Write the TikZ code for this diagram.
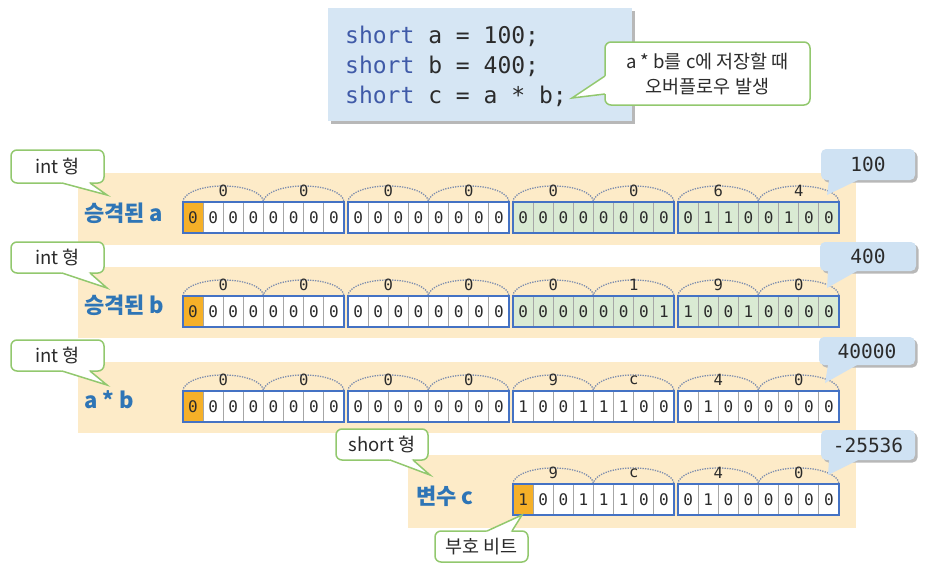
\documentclass[tikz,border=0pt]{standalone}
\usepackage{fontspec}
\setmainfont{Noto Sans CJK KR}
\newfontfamily\codefont{DejaVu Sans Mono}
\usetikzlibrary{calc}
\definecolor{bandfill}{HTML}{FDEBC8}
\definecolor{codefill}{HTML}{D6E6F4}
\definecolor{valfill}{HTML}{CFE2F3}
\definecolor{cgreen}{HTML}{92C86E}
\definecolor{lblue}{HTML}{2E75B6}
\definecolor{kwblue}{HTML}{3F5AA8}
\definecolor{bytebl}{HTML}{4472C4}
\definecolor{cellgreen}{HTML}{D9EAD3}
\definecolor{signor}{HTML}{F5B028}
\definecolor{arcgray}{HTML}{7D8DAE}
\definecolor{cellgray}{HTML}{A6A6A6}
\definecolor{txt}{HTML}{2B2B2B}
\definecolor{shadowgray}{HTML}{B8B8B8}

\tikzset{
 cell/.style={draw=cellgray, line width=1pt, minimum width=20.125pt, minimum height=31pt, inner sep=0pt, font=\codefont\fontsize{16}{16}\selectfont, text=txt},
 bytestyle/.style={draw=bytebl, line width=2.4pt},
 arcstyle/.style={draw=arcgray, line width=1.3pt, dash pattern=on 1.3pt off 1.2pt},
 nibstyle/.style={font=\codefont\fontsize{15.5}{15.5}\selectfont, text=txt, inner sep=0pt},
 gbox/.style={draw=cgreen, fill=white, line width=1.5pt, rounded corners=6pt},
 gline/.style={draw=cgreen, line width=1.5pt},
 gtext/.style={font=\fontsize{18.5}{25}\selectfont, text=txt, align=center, inner sep=0pt},
 vtext/.style={font=\codefont\fontsize{19.5}{19.5}\selectfont, text=txt, inner sep=0pt},
 rowlabel/.style={font=\bfseries\fontsize{22}{22}\selectfont, text=lblue, inner sep=0pt, anchor=west},
 codeline/.style={font=\codefont\fontsize{23}{23}\selectfont, text=txt, inner sep=0pt, anchor=base west},
}

% #1 name, #2 x0, #3 y0, #4 bits, #5 fill, #6 fill of first cell
\newcommand\bytebox[6]{%
  \foreach \b [count=\i from 0] in {#4} {%
    \ifnum\i=0 \def\cf{#6}\else\def\cf{#5}\fi
    \node[cell, fill=\cf] (#1c\i) at ({#2+\i*20.125+10.0625},{#3+15.5}) {\b};
  }
  \draw[bytestyle] (#2,#3) rectangle ++(161,31);
}
% #1 name, #2 x0, #3 y0, #4 label
\newcommand\nib[4]{%
  \draw[arcstyle] ({#2},{#3}) .. controls ({#2},{#3-9}) and ({#2+18},{#3-16}) .. ({#2+40.25},{#3-16})
      .. controls ({#2+62.5},{#3-16}) and ({#2+80.5},{#3-9}) .. ({#2+80.5},{#3});
  \node[nibstyle] (#1) at ({#2+40.25},{#3-11}) {#4};
}
% green callout: #1 name, #2..#5 box, #6 A, #7 B, #8 tip, #9 text
\newcommand\gcallout[9]{%
  \draw[gbox] (#2,#3) rectangle (#4,#5);
  \fill[white] #6 -- #8 -- #7 -- ({(#2+#4)/2},{(#3+#5)/2}) -- cycle;
  \draw[gline] #6 -- #8 -- #7;
  \node[gtext] (#1) at ({(#2+#4)/2},{(#3+#5)/2}) {#9};
}
% value callout
\newcommand\bcallout[9]{%
  \fill[shadowgray, rounded corners=5pt] ({#2+2.5},{#3+2.5}) rectangle ({#4+2.5},{#5+2.5});
  \fill[valfill, rounded corners=5pt] (#2,#3) rectangle (#4,#5);
  \fill[valfill] #6 -- #8 -- #7 -- ({(#2+#4)/2},{(#3+#5)/2}) -- cycle;
  \node[vtext] (#1) at ({(#2+#4)/2},{(#3+#5)/2}) {#9};
}

\begin{document}
\begin{tikzpicture}[x=1pt,y=-1pt]
\useasboundingbox (0,0) rectangle (936,573);

% bands
\fill[bandfill] (78,173) rectangle (856,245);
\fill[bandfill] (78,267) rectangle (856,338);
\fill[bandfill] (78,362) rectangle (856,433);
\fill[bandfill] (408,455) rectangle (856,528);

% code box
\fill[shadowgray] (331,11) rectangle (635,124);
\node[fill=codefill, minimum width=304pt, minimum height=113pt, inner sep=0pt, anchor=north west] (code) at (328,8) {};
\node[codeline] (l1) at (345,43) {\textcolor{kwblue}{short} a = 100;};
\node[codeline] (l2) at (345,73) {\textcolor{kwblue}{short} b = 400;};
\node[codeline] (l3) at (345,103) {\textcolor{kwblue}{short} c = a * b;};

\gcallout{ovf}{605}{42}{810}{105}{(605,76)}{(605,94)}{(572,98)}{a * b를 c에 저장할 때\\오버플로우 발생}

% row labels
\node[rowlabel] (la) at (84,213) {승격된 a};
\node[rowlabel] (lb) at (84,305) {승격된 b};
\node[rowlabel] (lab) at (84,400) {a * b};
\node[rowlabel] (lc) at (416,496) {변수 c};

% row a
\nib{na1}{183}{202}{0}\nib{na2}{263.5}{202}{0}
\nib{na3}{348}{202}{0}\nib{na4}{428.5}{202}{0}
\nib{na5}{513}{202}{0}\nib{na6}{593.5}{202}{0}
\nib{na7}{678}{202}{6}\nib{na8}{758.5}{202}{4}
\bytebox{a1}{183}{202}{0,0,0,0,0,0,0,0}{white}{signor}
\bytebox{a2}{348}{202}{0,0,0,0,0,0,0,0}{white}{white}
\bytebox{a3}{513}{202}{0,0,0,0,0,0,0,0}{cellgreen}{cellgreen}
\bytebox{a4}{678}{202}{0,1,1,0,0,1,0,0}{cellgreen}{cellgreen}

% row b
\nib{nb1}{183}{296}{0}\nib{nb2}{263.5}{296}{0}
\nib{nb3}{348}{296}{0}\nib{nb4}{428.5}{296}{0}
\nib{nb5}{513}{296}{0}\nib{nb6}{593.5}{296}{1}
\nib{nb7}{678}{296}{9}\nib{nb8}{758.5}{296}{0}
\bytebox{b1}{183}{296}{0,0,0,0,0,0,0,0}{white}{signor}
\bytebox{b2}{348}{296}{0,0,0,0,0,0,0,0}{white}{white}
\bytebox{b3}{513}{296}{0,0,0,0,0,0,0,1}{cellgreen}{cellgreen}
\bytebox{b4}{678}{296}{1,0,0,1,0,0,0,0}{cellgreen}{cellgreen}

% row a*b
\nib{nab1}{183}{391}{0}\nib{nab2}{263.5}{391}{0}
\nib{nab3}{348}{391}{0}\nib{nab4}{428.5}{391}{0}
\nib{nab5}{513}{391}{9}\nib{nab6}{593.5}{391}{c}
\nib{nab7}{678}{391}{4}\nib{nab8}{758.5}{391}{0}
\bytebox{ab1}{183}{391}{0,0,0,0,0,0,0,0}{white}{signor}
\bytebox{ab2}{348}{391}{0,0,0,0,0,0,0,0}{white}{white}
\bytebox{ab3}{513}{391}{1,0,0,1,1,1,0,0}{white}{white}
\bytebox{ab4}{678}{391}{0,1,0,0,0,0,0,0}{white}{white}

% row c
\nib{nc5}{513}{484}{9}\nib{nc6}{593.5}{484}{c}
\nib{nc7}{678}{484}{4}\nib{nc8}{758.5}{484}{0}
\bytebox{c3}{513}{484}{1,0,0,1,1,1,0,0}{white}{signor}
\bytebox{c4}{678}{484}{0,1,0,0,0,0,0,0}{white}{white}

% type callouts
\gcallout{ta}{11}{150}{104}{183}{(62,183)}{(90,183)}{(107,195)}{int 형}
\gcallout{tb}{11}{242}{104}{273}{(62,273)}{(90,273)}{(107,288)}{int 형}
\gcallout{tab}{11}{340}{104}{371}{(62,371)}{(90,371)}{(107,385)}{int 형}
\gcallout{tc}{336}{429}{428}{460}{(390,460)}{(413,460)}{(430,475)}{short 형}
\gcallout{sign}{435}{531}{528}{562}{(487,531)}{(512,531)}{(522,515)}{부호 비트}

% value callouts
\bcallout{va}{821}{149}{915}{180}{(829,180)}{(858,180)}{(827,195)}{100}
\bcallout{vb}{820}{242}{916}{271}{(828,271)}{(857,271)}{(827,288)}{400}
\bcallout{vab}{819}{337}{915}{365}{(828,365)}{(857,365)}{(825,383)}{40000}
\bcallout{vc}{821}{430}{915}{460}{(829,460)}{(858,460)}{(828,475)}{-25536}
\end{tikzpicture}
\end{document}
